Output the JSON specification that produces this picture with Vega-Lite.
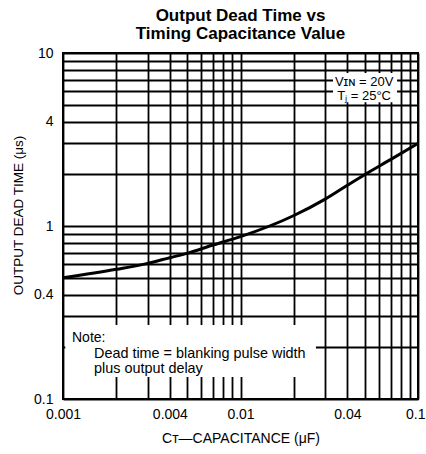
{
  "$schema": "https://vega.github.io/schema/vega-lite/v6.json",
  "width": 355,
  "height": 346,
  "autosize": {"type": "none"},
  "padding": {"left": 63, "top": 53, "right": 8, "bottom": 55},
  "background": "white",
  "title": {
    "text": ["Output Dead Time vs", "Timing Capacitance Value"],
    "font": "Liberation Sans",
    "fontSize": 17,
    "fontWeight": "bold",
    "color": "black",
    "anchor": "middle",
    "lineHeight": 18,
    "offset": 3
  },
  "config": {
    "view": {"stroke": "black", "strokeWidth": 2},
    "axis": {
      "domain": false,
      "ticks": false,
      "grid": true,
      "gridColor": "black",
      "gridWidth": 1.8,
      "gridOpacity": 1,
      "labelFont": "Liberation Sans",
      "labelFontSize": 14,
      "labelColor": "black",
      "labelOverlap": false,
      "labelFlush": false,
      "labelBound": false,
      "titleFont": "Liberation Sans",
      "titleFontSize": 14,
      "titleFontWeight": "normal",
      "titleColor": "black"
    }
  },
  "layer": [
    {
      "data": {
        "values": [
          {"c": 0.001, "t": 0.502},
          {"c": 0.002, "t": 0.562},
          {"c": 0.003, "t": 0.608},
          {"c": 0.004, "t": 0.656},
          {"c": 0.005, "t": 0.695},
          {"c": 0.007, "t": 0.776},
          {"c": 0.01, "t": 0.868},
          {"c": 0.02, "t": 1.15},
          {"c": 0.03, "t": 1.43},
          {"c": 0.04, "t": 1.72},
          {"c": 0.05, "t": 1.98},
          {"c": 0.07, "t": 2.42},
          {"c": 0.1, "t": 3.0}
        ]
      },
      "mark": {"type": "line", "color": "black", "strokeWidth": 3, "interpolate": "monotone"},
      "encoding": {
        "x": {
          "field": "c",
          "type": "quantitative",
          "scale": {"type": "log", "domain": [0.001, 0.1]},
          "axis": {
            "values": [0.001, 0.002, 0.003, 0.004, 0.005, 0.006, 0.007, 0.008, 0.009, 0.01, 0.02, 0.03, 0.04, 0.05, 0.06, 0.07, 0.08, 0.09, 0.1],
            "labelExpr": "indexof([0.001, 0.004, 0.01, 0.04, 0.1], datum.value) >= 0 ? format(datum.value, '.3~f') : ''",
            "labelAlign": {"condition": {"test": "datum.value == 0.1", "value": "right"}, "value": "center"},
            "labelOffset": {"condition": {"test": "datum.value == 0.1", "value": 7}, "value": 0},
            "title": "Cᴛ—CAPACITANCE (μF)",
            "labelPadding": 8,
            "titlePadding": 10
          }
        },
        "y": {
          "field": "t",
          "type": "quantitative",
          "scale": {"type": "log", "domain": [0.1, 10]},
          "axis": {
            "values": [0.1, 0.2, 0.3, 0.4, 0.5, 0.6, 0.7, 0.8, 0.9, 1, 2, 3, 4, 5, 6, 7, 8, 9, 10],
            "labelExpr": "indexof([0.1, 0.4, 1, 4, 10], datum.value) >= 0 ? format(datum.value, '.1~f') : ''",
            "title": "OUTPUT DEAD TIME (μs)",
            "titleFontSize": 13.5,
            "titleY": 162,
            "labelPadding": 10,
            "titlePadding": 8
          }
        }
      }
    },
    {
      "data": {"values": [{}]},
      "mark": {"type": "rect", "fill": "white"},
      "encoding": {
        "x": {"datum": 0.00103},
        "x2": {"datum": 0.0266},
        "y": {"datum": 0.268},
        "y2": {"datum": 0.134}
      }
    },
    {
      "data": {"values": [{}]},
      "mark": {"type": "rect", "fill": "white"},
      "encoding": {
        "x": {"datum": 0.0332},
        "x2": {"datum": 0.0762},
        "y": {"datum": 7.66},
        "y2": {"datum": 5.2}
      }
    },
    {
      "data": {"values": [{}]},
      "mark": {"type": "text", "text": ["Vɪɴ = 20V", "Tⱼ = 25°C"], "font": "Liberation Sans", "fontSize": 13, "lineHeight": 14, "align": "center", "baseline": "alphabetic", "color": "black"},
      "encoding": {
        "x": {"datum": 0.0497},
        "y": {"datum": 6.45}
      }
    },
    {
      "data": {"values": [{}]},
      "mark": {"type": "text", "text": "Note:", "font": "Liberation Sans", "fontSize": 14, "align": "left", "baseline": "alphabetic", "dx": 9, "color": "black"},
      "encoding": {
        "x": {"datum": 0.001},
        "y": {"datum": 0.214}
      }
    },
    {
      "data": {"values": [{}]},
      "mark": {"type": "text", "text": ["Dead time = blanking pulse width", "plus output delay"], "font": "Liberation Sans", "fontSize": 14.4, "lineHeight": 14.5, "align": "left", "baseline": "alphabetic", "dx": 31, "color": "black"},
      "encoding": {
        "x": {"datum": 0.001},
        "y": {"datum": 0.172}
      }
    }
  ]
}
